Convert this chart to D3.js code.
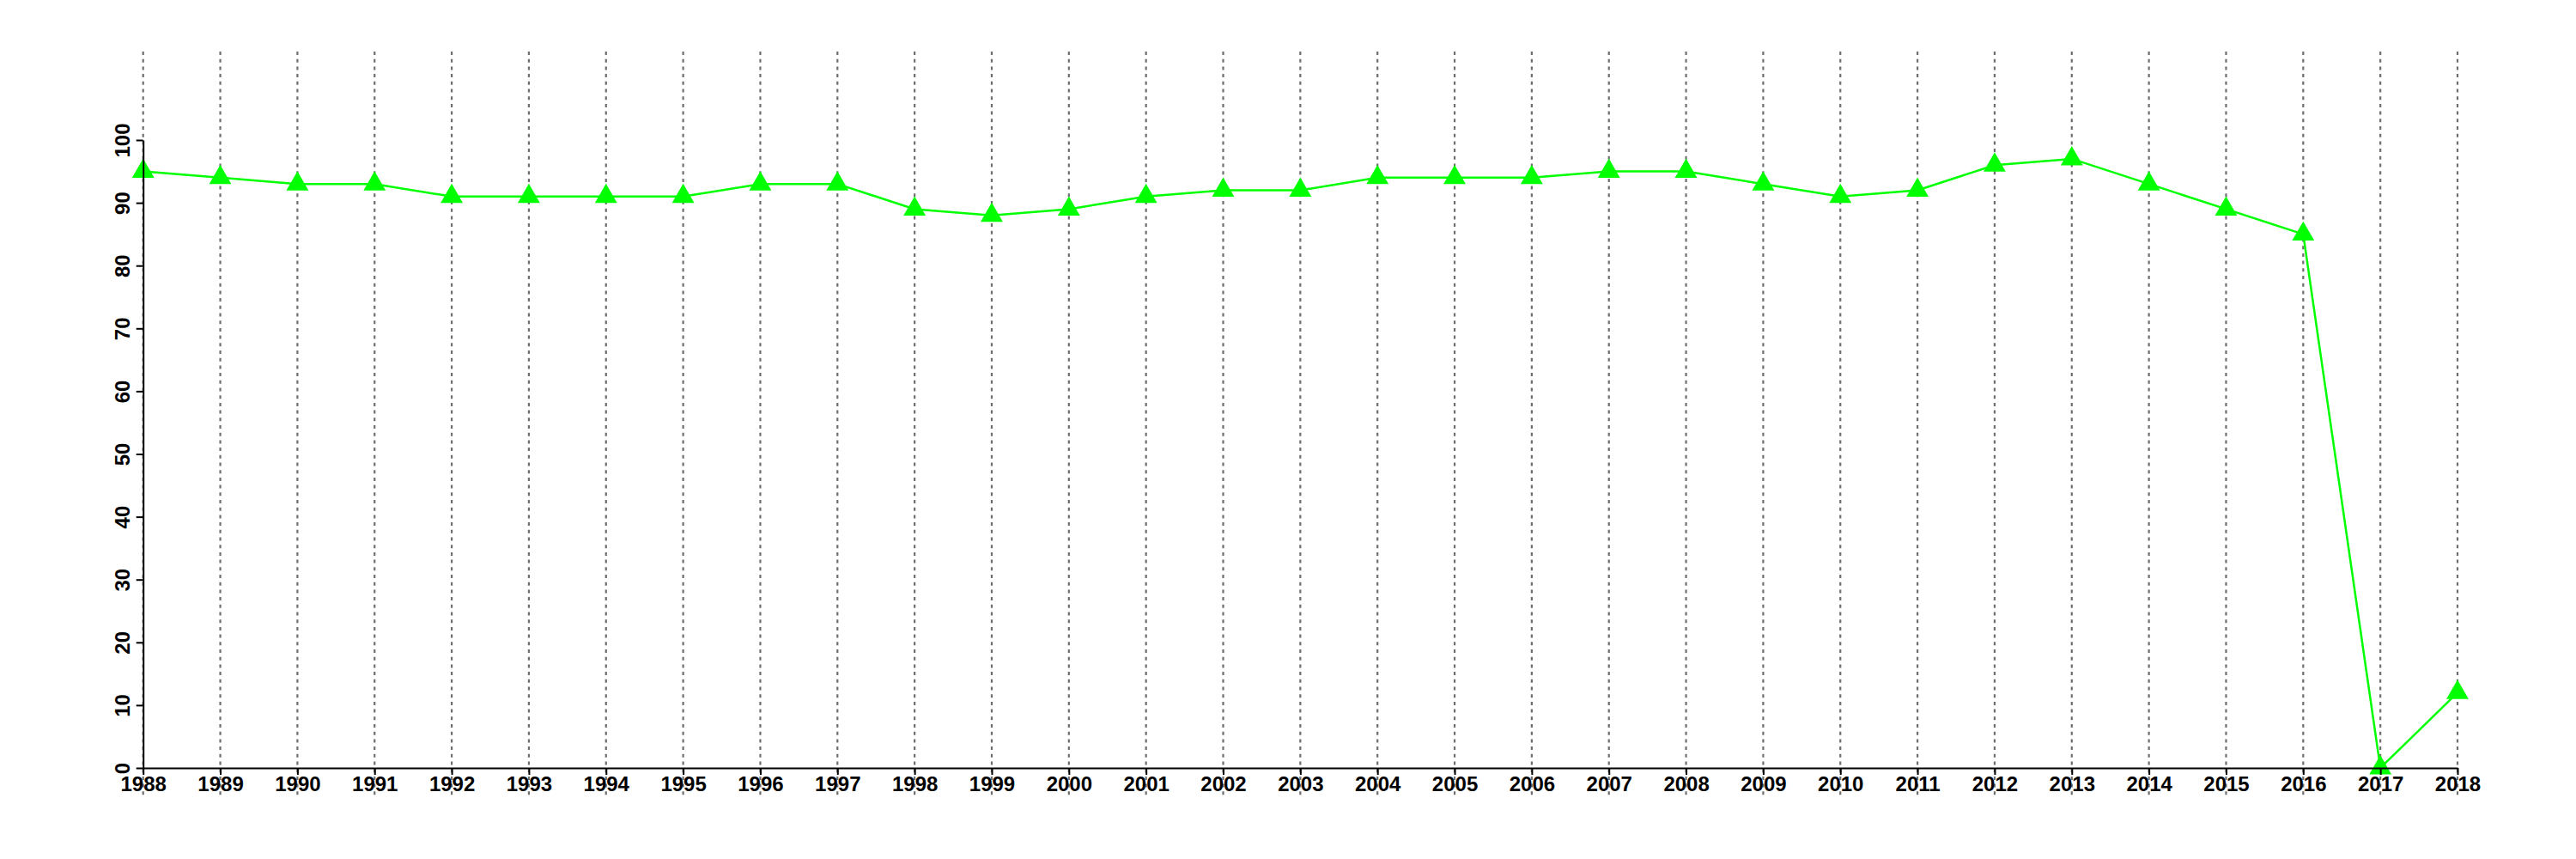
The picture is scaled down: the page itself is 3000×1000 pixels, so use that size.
<!DOCTYPE html>
<html>
<head>
<meta charset="utf-8">
<script src="https://cdn.jsdelivr.net/npm/d3@7"></script>
<style>
  html, body { margin: 0; padding: 0; background: #fff; }
  svg { display: block; }
  text { font-family: "Liberation Sans Narrow", "Liberation Sans", Arial, sans-serif; font-weight: bold; font-size: 24px; fill: #000; }
</style>
</head>
<body>
<script>
const years = [1988,1989,1990,1991,1992,1993,1994,1995,1996,1997,1998,1999,2000,2001,2002,2003,2004,2005,2006,2007,2008,2009,2010,2011,2012,2013,2014,2015,2016,2017,2018];
const values = [95,94,93,93,91,91,91,91,93,93,89,88,89,91,92,92,94,94,94,95,95,93,91,92,96,97,93,89,85,0,12];
const yTicks = [0,10,20,30,40,50,60,70,80,90,100];

const W = 3000, H = 1000;
const svg = d3.select("body").append("svg").attr("width", W).attr("height", H);

const x = d3.scaleLinear().domain([1988, 2018]).range([166.7, 2862]);
const y = d3.scaleLinear().domain([0, 100]).range([894, 163]);

// vertical dashed grid lines
svg.append("g").selectAll("line").data(years).join("line")
  .attr("x1", d => x(d)).attr("x2", d => x(d))
  .attr("y1", 60).attr("y2", 927)
  .attr("stroke", "#6e6e6e").attr("stroke-width", 2.2)
  .attr("stroke-dasharray", "4,4.7");

// line
const line = d3.line().x((d, i) => x(years[i])).y(d => y(d));
svg.append("path").datum(values)
  .attr("d", line).attr("fill", "none")
  .attr("stroke", "#00ff00").attr("stroke-width", 2.5);

// triangle markers
const tri = d3.symbol().type(d3.symbolTriangle).size(290);
svg.append("g").selectAll("path").data(values).join("path")
  .attr("d", tri)
  .attr("transform", (d, i) => `translate(${x(years[i])},${y(d)})`)
  .attr("fill", "#00ff00");

// x axis
const xAxis = svg.append("g").attr("transform", `translate(0,${y(0)})`)
  .call(d3.axisBottom(x).tickValues(years).tickFormat(d3.format("d")).tickSize(8).tickPadding(4).tickSizeOuter(0));
xAxis.select(".domain").attr("stroke", "#000").attr("stroke-width", 2);
xAxis.selectAll(".tick line").attr("stroke", "#000").attr("stroke-width", 2);
xAxis.selectAll(".tick text").attr("font-family", null).attr("font-size", null)
  .attr("dy", null).attr("y", 27).style("font-size", "24px");
xAxis.attr("font-family", null).attr("font-size", null);

// y axis
const yAxis = svg.append("g").attr("transform", `translate(${x(1988)},0)`)
  .call(d3.axisLeft(y).tickValues(yTicks).tickSize(8).tickSizeOuter(0));
yAxis.select(".domain").attr("stroke", "#000").attr("stroke-width", 2);
yAxis.selectAll(".tick line").attr("stroke", "#000").attr("stroke-width", 2);
yAxis.selectAll(".tick text")
  .attr("x", null).attr("dy", null)
  .attr("text-anchor", "middle")
  .attr("transform", "translate(-16,0) rotate(-90)")
  .style("font-size", "24px");
yAxis.attr("font-family", null).attr("font-size", null);
</script>
</body>
</html>
